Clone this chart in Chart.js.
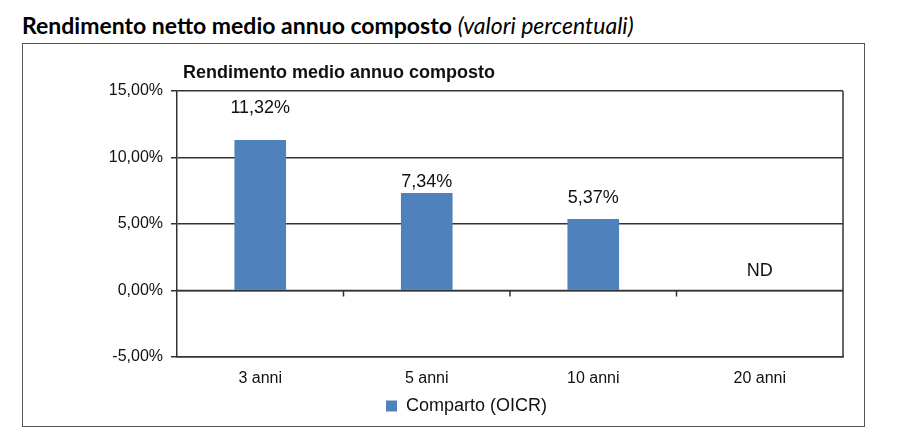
<!DOCTYPE html>
<html>
<head>
<meta charset="utf-8">
<script src="https://cdn.jsdelivr.net/npm/chart.js@4.4.1/dist/chart.umd.min.js"></script>
<style>
  html, body { margin: 0; padding: 0; background: #fff; }
  body { width: 901px; height: 444px; position: relative; overflow: hidden; }
  #outerTitle { position: absolute; left: 22px; top: 14px; font-family: Lato, Carlito, Calibri, sans-serif; font-size: 23px; line-height: 23px; color: #000; white-space: nowrap; }
  #outerTitle b { font-weight: 700; }
  #outerTitle i { font-weight: 400; font-style: italic; }
  #box { position: absolute; left: 22px; top: 43px; width: 843px; height: 384px; box-sizing: border-box; border: 1.5px solid #555; }
  #wrap { position: absolute; left: 0; top: 0; width: 901px; height: 444px; }
</style>
</head>
<body>
<div id="outerTitle"><b>Rendimento netto medio annuo composto</b> <i>(valori percentuali)</i></div>
<div id="box"></div>
<div id="wrap"><canvas id="c" width="901" height="444"></canvas></div>
<script>
// ---- Data ----
const categories = ["3 anni", "5 anni", "10 anni", "20 anni"];
const seriesName = "Comparto (OICR)";
const values = [11.32, 7.34, 5.37, null];
const missingLabel = "ND";
const yTicks = [-5, 0, 5, 10, 15];
const chartTitle = "Rendimento medio annuo composto";

const FONT = "Arial, 'Liberation Sans', sans-serif";
const fmt = v => v.toFixed(2).replace('.', ',') + '%';

const innerTitlePlugin = {
  id: 'innerTitle',
  afterDraw(chart, args, opts) {
    const ctx = chart.ctx;
    ctx.save();
    ctx.font = 'bold 18px ' + FONT;
    ctx.fillStyle = '#111';
    ctx.textAlign = 'left';
    ctx.textBaseline = 'alphabetic';
    ctx.fillText(opts.text, opts.x, opts.y);
    ctx.restore();
  }
};

const frameAndTicksPlugin = {
  id: 'frameTicks',
  afterDatasetsDraw(chart, args, opts) {
    const ctx = chart.ctx, a = chart.chartArea;
    const xs = chart.scales.x, ys = chart.scales.y;
    ctx.save();
    ctx.strokeStyle = '#333';
    ctx.lineWidth = 1.5;
    ctx.beginPath();
    ctx.moveTo(a.right, a.top);
    ctx.lineTo(a.right, a.bottom);
    ctx.stroke();
    const y0 = ys.getPixelForValue(0);
    ctx.beginPath();
    ctx.moveTo(a.left, y0);
    ctx.lineTo(a.right, y0);
    ctx.stroke();
    for (let i = 1; i < categories.length; i++) {
      const xb = (xs.getPixelForValue(i - 1) + xs.getPixelForValue(i)) / 2;
      ctx.beginPath();
      ctx.moveTo(xb, y0);
      ctx.lineTo(xb, y0 + 6);
      ctx.stroke();
    }
    ctx.restore();
  },
  afterDraw(chart, args, opts) {
    const ctx = chart.ctx;
    const meta = chart.getDatasetMeta(0);
    const ys = chart.scales.y;
    ctx.save();
    ctx.font = '18px ' + FONT;
    ctx.fillStyle = '#111';
    ctx.textAlign = 'center';
    ctx.textBaseline = 'middle';
    values.forEach((v, i) => {
      const el = meta.data[i];
      const off = opts.offsets[i];
      if (v === null || v === undefined) {
        ctx.fillText(missingLabel, el.x, ys.getPixelForValue(0) - off);
      } else {
        ctx.fillText(fmt(v), el.x, el.y - off);
      }
    });
    ctx.restore();
  }
};

new Chart(document.getElementById('c'), {
  type: 'bar',
  data: {
    labels: categories,
    datasets: [{
      label: seriesName,
      data: values,
      backgroundColor: '#4F81BD',
      borderWidth: 0,
      categoryPercentage: 1.0,
      barPercentage: 0.31
    }]
  },
  options: {
    responsive: false,
    animation: false,
    devicePixelRatio: 1,
    layout: { padding: { left: 90, right: 58, top: 91, bottom: 19 } },
    plugins: {
      title: { display: false },
      tooltip: { enabled: false },
      legend: {
        display: true,
        position: 'bottom',
        labels: {
          font: { family: FONT, size: 18 },
          color: '#111',
          boxWidth: 11,
          boxHeight: 11,
          padding: 10
        }
      },
      innerTitle: { text: chartTitle, x: 183, y: 78 },
      frameTicks: { offsets: [32, 11, 21, 19] }
    },
    scales: {
      x: {
        grid: { display: false, drawTicks: false },
        border: { display: true, color: '#333', width: 1.5 },
        ticks: { font: { family: FONT, size: 16 }, color: '#111', padding: 12 },
        afterFit(s) { s.height = 30; }
      },
      y: {
        min: -5,
        max: 15,
        afterBuildTicks(s) { s.ticks = yTicks.map(v => ({ value: v })); },
        grid: { color: '#333', lineWidth: 1.5, tickLength: 6, drawTicks: true },
        border: { display: true, color: '#333', width: 1.5 },
        ticks: {
          font: { family: FONT, size: 16 },
          color: '#111',
          padding: 8,
          callback: v => fmt(v)
        },
        afterFit(s) { s.width = 87; }
      }
    }
  },
  plugins: [innerTitlePlugin, frameAndTicksPlugin]
});
</script>
</body>
</html>
